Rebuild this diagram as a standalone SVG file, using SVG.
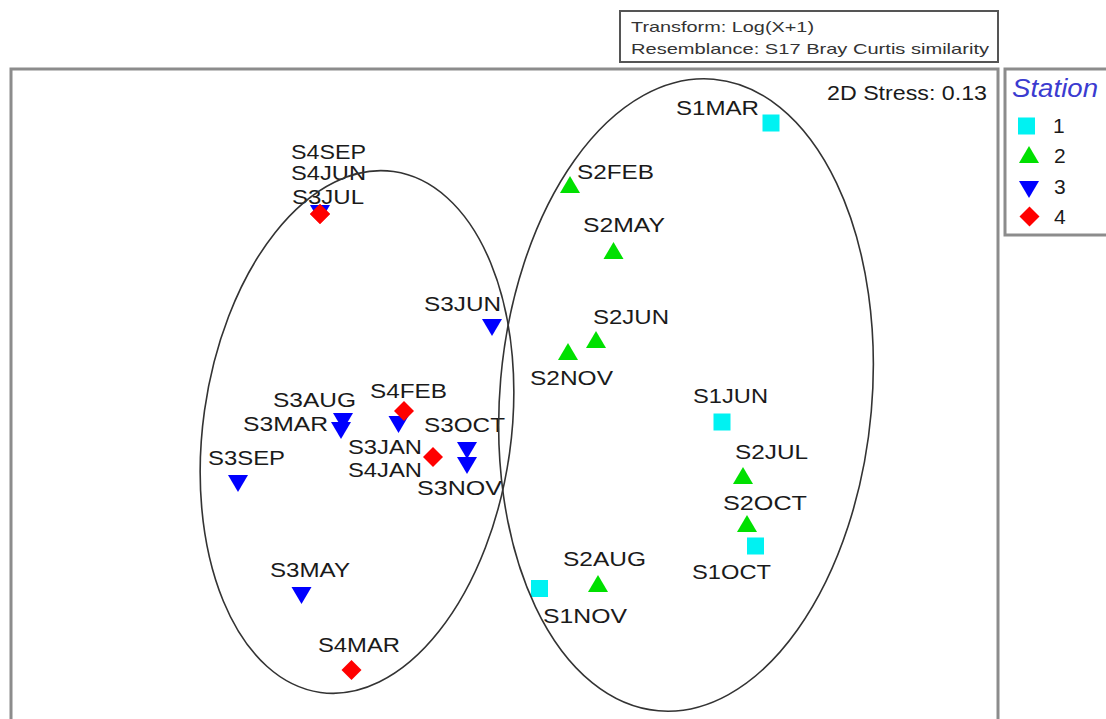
<svg xmlns="http://www.w3.org/2000/svg" xmlns:xlink="http://www.w3.org/1999/xlink" width="1106" height="719" viewBox="0 0 1106 719">
<style>
.frame{fill:none;stroke:#8c8c8c;stroke-width:3}
.tbox{fill:#fff;stroke:#555;stroke-width:2}
.lbl{font-family:"Liberation Sans",Arial,sans-serif;font-size:21px;fill:#1a1a1a}
.small{font-family:"Liberation Sans",Arial,sans-serif;font-size:15px;fill:#333}
.stress{font-family:"Liberation Sans",Arial,sans-serif;font-size:20px;fill:#1a1a1a}
.title{font-family:"Liberation Sans",Arial,sans-serif;font-size:25px;font-style:italic;fill:#3b3bd0}
.ell{fill:none;stroke:#333;stroke-width:1.6}
</style>
<defs>
<rect id="sq" x="-8.5" y="-8.5" width="17" height="17" fill="#00f2f2"/>
<polygon id="up" points="0,-9 10,8 -10,8" fill="#00e000"/>
<polygon id="dn" points="-10,-8 10,-8 0,9" fill="#0000ff"/>
<polygon id="dm" points="0,-10 10,0 0,10 -10,0" fill="#ff0000"/>
</defs>
<rect width="1106" height="719" fill="#fff"/>
<g id="frames">
<rect class="frame" x="11" y="69" width="987" height="660"/>
<rect class="frame" x="1005" y="69" width="110" height="166"/>
<rect class="tbox" x="620" y="11" width="378" height="51"/>
<text class="small" x="631" y="32" textLength="183" lengthAdjust="spacingAndGlyphs">Transform: Log(X+1)</text>
<text class="small" x="631" y="54" textLength="358" lengthAdjust="spacingAndGlyphs">Resemblance: S17 Bray Curtis similarity</text>
<text class="stress" x="827" y="100" textLength="160" lengthAdjust="spacingAndGlyphs">2D Stress: 0.13</text>
</g>
<g id="legend">
<text class="title" x="1012" y="97" textLength="86" lengthAdjust="spacingAndGlyphs">Station</text>
<use href="#sq" x="1026.5" y="126"/>
<text class="lbl" x="1053" y="133">1</text>
<use href="#up" x="1029" y="155"/>
<text class="lbl" x="1054" y="163">2</text>
<use href="#dn" x="1029" y="189"/>
<text class="lbl" x="1054" y="194">3</text>
<use href="#dm" x="1029.5" y="216.5"/>
<text class="lbl" x="1054" y="224">4</text>
</g>
<g id="S1MAR"><use href="#sq" x="771" y="123"/><text class="lbl" x="676" y="115" textLength="83" lengthAdjust="spacingAndGlyphs">S1MAR</text></g>
<g id="S2FEB"><use href="#up" x="570" y="185"/><text class="lbl" x="577" y="179" textLength="77" lengthAdjust="spacingAndGlyphs">S2FEB</text></g>
<g id="S2MAY"><use href="#up" x="613.5" y="251"/><text class="lbl" x="583" y="232" textLength="82" lengthAdjust="spacingAndGlyphs">S2MAY</text></g>
<g id="S2JUN"><use href="#up" x="596" y="340"/><text class="lbl" x="593" y="324" textLength="76" lengthAdjust="spacingAndGlyphs">S2JUN</text></g>
<g id="S2NOV"><use href="#up" x="568" y="352"/><text class="lbl" x="530" y="385" textLength="83" lengthAdjust="spacingAndGlyphs">S2NOV</text></g>
<g id="S3JUN"><use href="#dn" x="492" y="327"/><text class="lbl" x="424" y="311" textLength="77" lengthAdjust="spacingAndGlyphs">S3JUN</text></g>
<g id="S3JUL"><use href="#dn" x="320" y="213"/><text class="lbl" x="292" y="204" textLength="72" lengthAdjust="spacingAndGlyphs">S3JUL</text></g>
<g id="S4SEP"><use href="#dm" x="320" y="214"/><text class="lbl" x="291" y="159" textLength="75" lengthAdjust="spacingAndGlyphs">S4SEP</text></g>
<g id="S4JUN"><use href="#dm" x="320" y="214"/><text class="lbl" x="291" y="180" textLength="75" lengthAdjust="spacingAndGlyphs">S4JUN</text></g>
<g id="S3AUG"><use href="#dn" x="343" y="421"/><text class="lbl" x="273" y="407" textLength="83" lengthAdjust="spacingAndGlyphs">S3AUG</text></g>
<g id="S3MAR"><use href="#dn" x="341" y="430"/><text class="lbl" x="243" y="431" textLength="85" lengthAdjust="spacingAndGlyphs">S3MAR</text></g>
<g id="S3JAN"><use href="#dn" x="398.5" y="424"/><text class="lbl" x="348" y="454" textLength="74" lengthAdjust="spacingAndGlyphs">S3JAN</text></g>
<g id="S4FEB"><use href="#dm" x="404" y="411"/><text class="lbl" x="370" y="398" textLength="77" lengthAdjust="spacingAndGlyphs">S4FEB</text></g>
<g id="S4JAN"><use href="#dm" x="433" y="457"/><text class="lbl" x="348" y="477" textLength="74" lengthAdjust="spacingAndGlyphs">S4JAN</text></g>
<g id="S3OCT"><use href="#dn" x="467" y="450"/><text class="lbl" x="424" y="432" textLength="81" lengthAdjust="spacingAndGlyphs">S3OCT</text></g>
<g id="S3NOV"><use href="#dn" x="467" y="465"/><text class="lbl" x="417" y="495" textLength="85" lengthAdjust="spacingAndGlyphs">S3NOV</text></g>
<g id="S3SEP"><use href="#dn" x="238" y="483"/><text class="lbl" x="208" y="465" textLength="77" lengthAdjust="spacingAndGlyphs">S3SEP</text></g>
<g id="S3MAY"><use href="#dn" x="301.5" y="595"/><text class="lbl" x="270" y="577" textLength="80" lengthAdjust="spacingAndGlyphs">S3MAY</text></g>
<g id="S4MAR"><use href="#dm" x="351.5" y="670"/><text class="lbl" x="318" y="652" textLength="82" lengthAdjust="spacingAndGlyphs">S4MAR</text></g>
<g id="S1JUN"><use href="#sq" x="722" y="422"/><text class="lbl" x="693" y="403" textLength="75" lengthAdjust="spacingAndGlyphs">S1JUN</text></g>
<g id="S2JUL"><use href="#up" x="743" y="476"/><text class="lbl" x="735" y="459" textLength="73" lengthAdjust="spacingAndGlyphs">S2JUL</text></g>
<g id="S2OCT"><use href="#up" x="747" y="524"/><text class="lbl" x="723" y="510" textLength="84" lengthAdjust="spacingAndGlyphs">S2OCT</text></g>
<g id="S1OCT"><use href="#sq" x="755.5" y="546"/><text class="lbl" x="692" y="579" textLength="79" lengthAdjust="spacingAndGlyphs">S1OCT</text></g>
<g id="S2AUG"><use href="#up" x="598" y="584"/><text class="lbl" x="563" y="566" textLength="83" lengthAdjust="spacingAndGlyphs">S2AUG</text></g>
<g id="S1NOV"><use href="#sq" x="539.5" y="588.5"/><text class="lbl" x="543" y="623" textLength="84" lengthAdjust="spacingAndGlyphs">S1NOV</text></g>
<g id="clusters">
<ellipse class="ell" cx="0" cy="0" rx="154" ry="263" transform="translate(357 432) rotate(8)"/>
<ellipse class="ell" cx="0" cy="0" rx="186" ry="317" transform="translate(686 395) rotate(5)"/>
</g>
</svg>
